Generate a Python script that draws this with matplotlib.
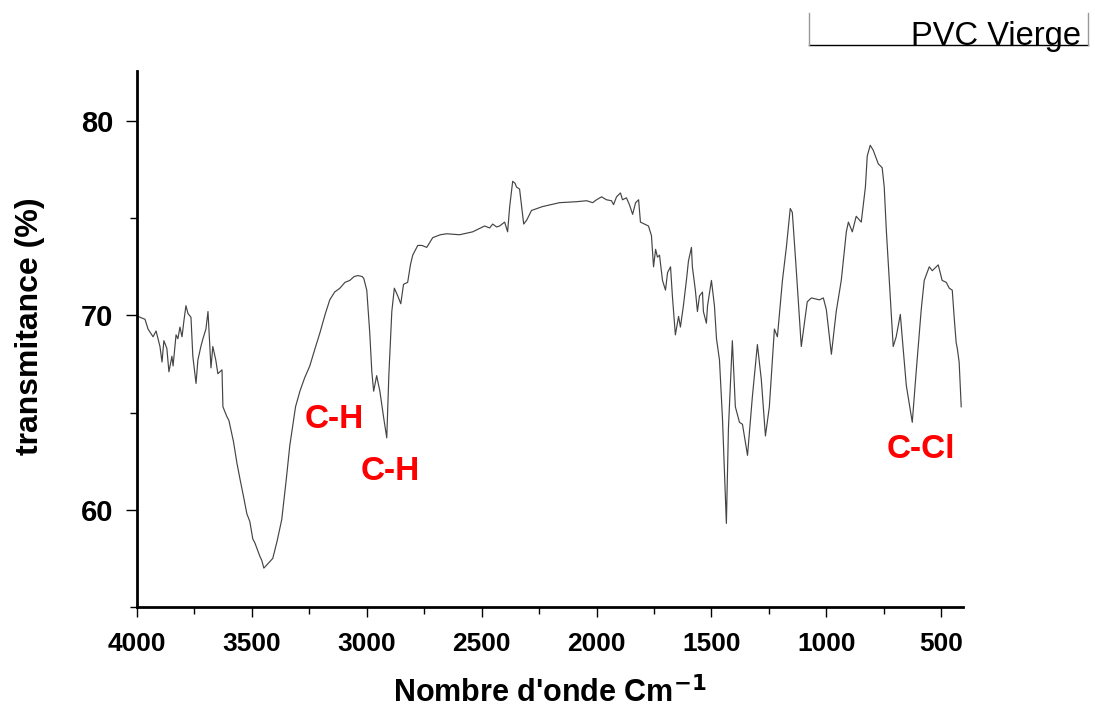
import numpy as np
import matplotlib
matplotlib.use("Agg")
import matplotlib.pyplot as plt
from matplotlib.lines import Line2D
from matplotlib.ticker import MultipleLocator

plt.rcParams['font.family'] = ['Liberation Sans', 'DejaVu Sans']

# Spectre IR du PVC vierge
nombre_onde = [
    4000, 3996, 3965, 3952, 3930, 3917, 3900, 3891, 3883, 3870, 3861, 3848,
    3843, 3830, 3822, 3813, 3804, 3796, 3787, 3778, 3765, 3757, 3743, 3735,
    3722, 3713, 3700, 3691, 3678, 3670, 3657, 3648, 3630, 3626, 3609, 3600,
    3580, 3565, 3552, 3535, 3522, 3509, 3496, 3487, 3465, 3457, 3448, 3440,
    3409, 3390, 3370, 3350, 3335, 3310, 3291, 3270, 3248, 3225, 3204, 3180,
    3161, 3140, 3117, 3095, 3074, 3055, 3039, 3020, 3013, 3000, 2987, 2978,
    2970, 2957, 2950, 2943, 2926, 2913, 2904, 2891, 2880, 2865, 2852, 2840,
    2822, 2810, 2800, 2778, 2760, 2739, 2713, 2680, 2652, 2596, 2539, 2487,
    2465, 2452, 2435, 2422, 2400, 2387, 2378, 2365, 2355, 2348, 2335, 2326,
    2317, 2304, 2283, 2235, 2161, 2087, 2043, 2017, 2000, 1978, 1957, 1935,
    1926, 1913, 1896, 1887, 1870, 1857, 1843, 1830, 1817, 1809, 1791, 1774,
    1761, 1752, 1743, 1735, 1726, 1713, 1700, 1691, 1678, 1670, 1657, 1643,
    1635, 1622, 1609, 1600, 1587, 1583, 1570, 1561, 1552, 1539, 1535, 1522,
    1517, 1500, 1487, 1478, 1465, 1452, 1435, 1426, 1409, 1396, 1378, 1365,
    1343, 1322, 1300, 1283, 1265, 1248, 1226, 1213, 1191, 1174, 1157, 1148,
    1130, 1109, 1083, 1065, 1030, 1013, 1000, 978, 957, 935, 913, 904,
    887, 870, 848, 830, 822, 809, 796, 774, 757, 748, 739, 722,
    709, 696, 678, 670, 652, 626, 609, 587, 574, 552, 539, 522,
    513, 496, 478, 465, 452, 443, 435, 430, 422, 413,
]
transmittance = [
    70.0, 69.95, 69.8, 69.3, 68.9, 69.2, 68.4, 67.6, 68.7, 68.3, 67.1, 67.9,
    67.4, 69.0, 68.8, 69.4, 68.9, 69.7, 70.5, 70.1, 69.9, 67.9, 66.5, 67.7,
    68.4, 68.8, 69.3, 70.2, 67.3, 68.4, 67.7, 67.0, 67.2, 65.3, 64.8, 64.6,
    63.5, 62.4, 61.6, 60.6, 59.8, 59.4, 58.5, 58.3, 57.6, 57.4, 57.0, 57.1,
    57.5, 58.4, 59.5, 61.6, 63.3, 65.3, 66.1, 66.8, 67.4, 68.3, 69.1, 70.1,
    70.8, 71.2, 71.4, 71.7, 71.8, 72.0, 72.05, 72.0, 71.9, 71.3, 69.1, 67.1,
    66.1, 66.9, 66.5, 66.1, 64.7, 63.7, 66.9, 70.2, 71.4, 71.0, 70.6, 71.6,
    71.7, 72.6, 73.1, 73.6, 73.6, 73.5, 74.0, 74.15, 74.2, 74.15, 74.3, 74.6,
    74.5, 74.7, 74.55, 74.6, 74.8, 74.3, 75.6, 76.9, 76.8, 76.6, 76.5, 75.6,
    74.7, 74.9, 75.4, 75.6, 75.8, 75.85, 75.9, 75.8, 75.95, 76.1, 75.95, 75.9,
    75.7, 76.1, 76.3, 75.95, 76.05, 75.7, 75.2, 75.8, 75.95, 74.8, 74.7, 74.6,
    74.1, 72.5, 73.4, 73.0, 73.1, 71.8, 71.3, 72.2, 72.5, 71.0, 69.0, 69.95,
    69.4, 70.5, 71.8, 72.8, 73.5, 72.5, 71.3, 70.2, 71.0, 71.2, 70.2, 69.6,
    70.5, 71.8, 70.5, 68.8, 67.7, 64.7, 59.3, 64.2, 68.7, 65.3, 64.5, 64.4,
    62.8, 65.8, 68.5, 66.7, 63.8, 65.3, 69.3, 68.9, 71.8, 73.5, 75.5, 75.3,
    72.2, 68.4, 70.7, 70.9, 70.8, 70.9, 70.3, 68.0, 70.2, 71.8, 74.3, 74.8,
    74.3, 75.1, 74.8, 76.6, 78.2, 78.75, 78.5, 77.8, 77.6, 76.6, 74.4, 71.0,
    68.4, 68.9, 70.05, 68.9, 66.4, 64.5, 67.1, 70.3, 71.8, 72.5, 72.3, 72.5,
    72.6, 71.8, 71.7, 71.4, 71.3, 69.8, 68.6, 68.3, 67.6, 65.3,
]

# Bandes attribuees
bandes = ["C-H", "C-H", "C-Cl"]
bandes_x = [3140, 2899, 589]
bandes_y = [64.2, 61.55, 62.65]

fig = plt.figure(figsize=(10.95, 7.09), dpi=100)
ax = fig.add_axes([0.1251, 0.1439, 0.7544, 0.7553])

ax.plot(nombre_onde, transmittance, color='#444444', lw=0.85)

for txt, bx, by in zip(bandes, bandes_x, bandes_y):
    ax.text(bx, by, txt, color='red', fontsize=24, fontweight='bold', ha='center', va='baseline')

ax.set_xlim(4000, 405)
ax.set_ylim(55, 82.55)
ax.xaxis.set_major_locator(MultipleLocator(500))
ax.xaxis.set_minor_locator(MultipleLocator(250))
ax.yaxis.set_major_locator(MultipleLocator(10))
ax.yaxis.set_minor_locator(MultipleLocator(5))

for side in ['top', 'right']:
    ax.spines[side].set_visible(False)
for side in ['left', 'bottom']:
    ax.spines[side].set_linewidth(2)

ax.tick_params(axis='x', which='major', length=7, width=1, pad=11, labelsize=19)
ax.tick_params(axis='x', which='minor', length=5, width=1)
ax.tick_params(axis='y', which='major', length=8, width=1, pad=9, labelsize=21)
ax.tick_params(axis='y', which='minor', length=5, width=1)
for lab in ax.get_xticklabels() + ax.get_yticklabels():
    lab.set_fontweight('bold')

ax.set_xlabel(r"Nombre d'onde Cm$^{\mathbf{-1}}$", fontsize=22, fontweight='bold', labelpad=15)
ax.set_ylabel("transmitance (%)", fontsize=23, fontweight='bold')
ax.yaxis.set_label_coords(-0.111, 0.525)

# legende
fig.add_artist(Line2D([809 / 1095, 1088 / 1095], [1 - 45 / 709, 1 - 45 / 709], color='black', lw=1))
fig.add_artist(Line2D([809 / 1095, 809 / 1095], [1 - 45 / 709, 1 - 13 / 709], color='#999999', lw=1))
fig.add_artist(Line2D([1088 / 1095, 1088 / 1095], [1 - 45 / 709, 1 - 13 / 709], color='#999999', lw=1))
fig.text(1081 / 1095, 1 - 45 / 709, "PVC Vierge", fontsize=23.5, ha='right', va='baseline')

fig.savefig("out.png", dpi=100)
